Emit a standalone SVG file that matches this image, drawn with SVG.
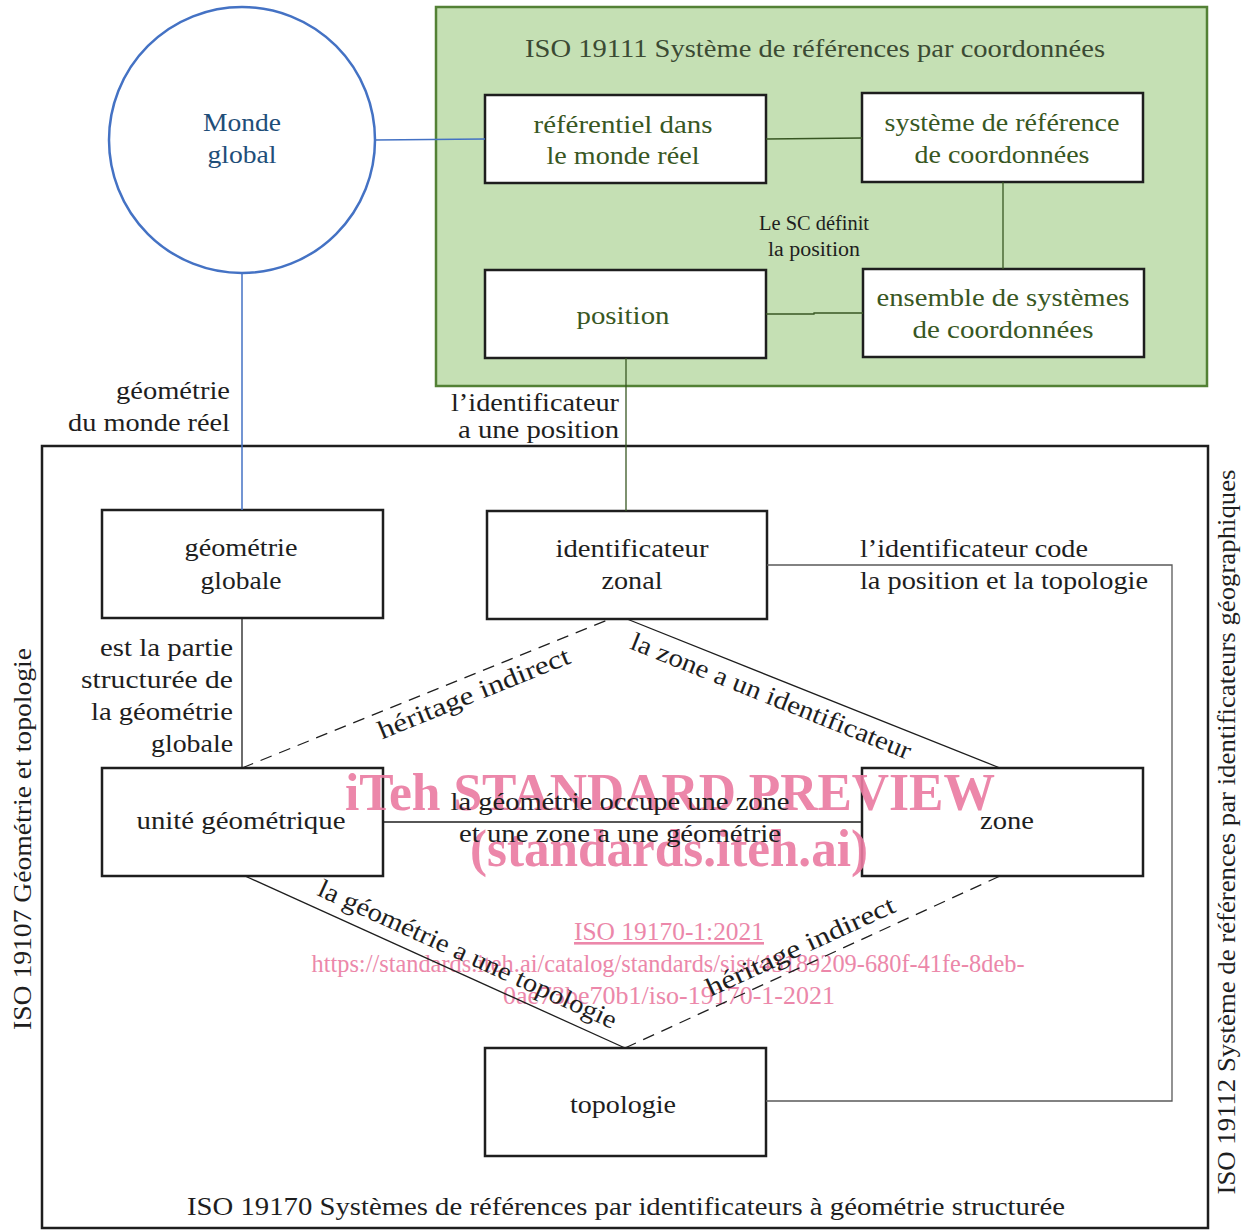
<svg xmlns="http://www.w3.org/2000/svg" width="1243" height="1230" viewBox="0 0 1243 1230">
<style>
  text { font-family: "Liberation Serif", "DejaVu Serif", serif; }
  .t { font-size: 26px; fill: #1e1e1e; }
  .g { font-size: 26px; fill: #385723; }
  .gt { font-size: 26px; fill: #3b4a33; }
  .s { font-size: 20px; fill: #1e1e1e; }
  .m { text-anchor: middle; }
  .e { text-anchor: end; }
  .box { fill: #ffffff; stroke: #1e1e1e; stroke-width: 2.5; }
  .ln { fill: none; stroke: #1e1e1e; stroke-width: 1.3; }
  .gl { fill: none; stroke: #385723; stroke-width: 1.3; }
  .bl { fill: none; stroke: #4472c4; stroke-width: 1.5; }
  .gr { fill: none; stroke: #595959; stroke-width: 1.3; }
  .dash { fill: none; stroke: #1e1e1e; stroke-width: 1.3; stroke-dasharray: 12 8; }
  .wm { fill: #ea7ba1; opacity: 0.9; }
</style>

<!-- containers -->
<g id="iso19111">
  <rect x="436" y="7" width="771" height="379" fill="#c5e0b4" stroke="#538135" stroke-width="2.5"/>
  <text class="gt m" x="815" y="57" textLength="580" lengthAdjust="spacingAndGlyphs">ISO 19111 Système de références par coordonnées</text>
</g>
<g id="iso19170">
  <rect x="42" y="446" width="1166" height="782" fill="none" stroke="#1e1e1e" stroke-width="2.5"/>
  <text class="t m" x="626" y="1215" textLength="878" lengthAdjust="spacingAndGlyphs">ISO 19170 Systèmes de références par identificateurs à géométrie structurée</text>
</g>
<g id="iso19107-label">
  <text class="t m" transform="translate(31,839) rotate(-90)" textLength="382" lengthAdjust="spacingAndGlyphs">ISO 19107 Géométrie et topologie</text>
</g>
<g id="iso19112-label">
  <text class="t m" transform="translate(1235,832) rotate(-90)" textLength="725" lengthAdjust="spacingAndGlyphs">ISO 19112 Système de références par identificateurs géographiques</text>
</g>

<!-- nodes -->
<g id="monde-global">
  <circle cx="242" cy="140" r="133" fill="#ffffff" stroke="#4472c4" stroke-width="2.5"/>
  <text class="t m" x="242" y="131" style="fill:#1f4e79" textLength="78" lengthAdjust="spacingAndGlyphs">Monde</text>
  <text class="t m" x="242" y="163" style="fill:#1f4e79" textLength="69" lengthAdjust="spacingAndGlyphs">global</text>
</g>
<g id="referentiel">
  <rect class="box" x="485" y="95" width="281" height="88"/>
  <text class="g m" x="623" y="133" textLength="179" lengthAdjust="spacingAndGlyphs">référentiel dans</text>
  <text class="g m" x="623" y="164" textLength="153" lengthAdjust="spacingAndGlyphs">le monde réel</text>
</g>
<g id="systeme-reference">
  <rect class="box" x="862" y="93" width="281" height="89"/>
  <text class="g m" x="1002" y="131" textLength="235" lengthAdjust="spacingAndGlyphs">système de référence</text>
  <text class="g m" x="1002" y="163" textLength="175" lengthAdjust="spacingAndGlyphs">de coordonnées</text>
</g>
<g id="position">
  <rect class="box" x="485" y="270" width="281" height="88"/>
  <text class="g m" x="623" y="324" textLength="93" lengthAdjust="spacingAndGlyphs">position</text>
</g>
<g id="ensemble-systemes">
  <rect class="box" x="863" y="269" width="281" height="88"/>
  <text class="g m" x="1003" y="306" textLength="253" lengthAdjust="spacingAndGlyphs">ensemble de systèmes</text>
  <text class="g m" x="1003" y="338" textLength="181" lengthAdjust="spacingAndGlyphs">de coordonnées</text>
</g>
<g id="geometrie-globale">
  <rect class="box" x="102" y="510" width="281" height="108"/>
  <text class="t m" x="241" y="556" textLength="113" lengthAdjust="spacingAndGlyphs">géométrie</text>
  <text class="t m" x="241" y="589" textLength="81" lengthAdjust="spacingAndGlyphs">globale</text>
</g>
<g id="identificateur-zonal">
  <rect class="box" x="487" y="511" width="280" height="108"/>
  <text class="t m" x="632" y="557" textLength="153" lengthAdjust="spacingAndGlyphs">identificateur</text>
  <text class="t m" x="632" y="589" textLength="61" lengthAdjust="spacingAndGlyphs">zonal</text>
</g>
<g id="unite-geometrique">
  <rect class="box" x="102" y="768" width="281" height="108"/>
  <text class="t m" x="241" y="829" textLength="209" lengthAdjust="spacingAndGlyphs">unité géométrique</text>
</g>
<g id="zone">
  <rect class="box" x="862" y="768" width="281" height="108"/>
  <text class="t m" x="1007" y="829" textLength="54" lengthAdjust="spacingAndGlyphs">zone</text>
</g>
<g id="topologie">
  <rect class="box" x="485" y="1048" width="281" height="108"/>
  <text class="t m" x="623" y="1113" textLength="106" lengthAdjust="spacingAndGlyphs">topologie</text>
</g>

<!-- watermark -->
<g id="watermark">
  <text class="wm m" x="670" y="810" font-size="52" font-weight="bold" textLength="650" lengthAdjust="spacingAndGlyphs">iTeh STANDARD PREVIEW</text>
  <text class="wm m" x="669" y="866" font-size="52" font-weight="bold" textLength="398" lengthAdjust="spacingAndGlyphs">(standards.iteh.ai)</text>
  <text class="wm m" x="669" y="940" font-size="26" text-decoration="underline" textLength="190" lengthAdjust="spacingAndGlyphs">ISO 19170-1:2021</text>
  <text class="wm m" x="668" y="972" font-size="26" textLength="713" lengthAdjust="spacingAndGlyphs">https://standards.iteh.ai/catalog/standards/sist/43189209-680f-41fe-8deb-</text>
  <text class="wm m" x="669" y="1004" font-size="26" textLength="332" lengthAdjust="spacingAndGlyphs">0ae73be70b1/iso-19170-1-2021</text>
</g>

<!-- connectors -->
<g id="connectors">
  <line class="bl" x1="375" y1="140" x2="485" y2="139"/>
  <line class="bl" x1="242" y1="273" x2="242" y2="510"/>
  <line class="gl" x1="766" y1="139" x2="862" y2="138"/>
  <line class="gl" x1="1003" y1="182" x2="1003" y2="269"/>
  <polyline class="gl" points="766,314 814,314 814,313 863,313"/>
  <line class="gl" x1="626" y1="358" x2="626" y2="511"/>
  <line class="ln" x1="242" y1="618" x2="242" y2="768"/>
  <line class="dash" x1="242" y1="768" x2="610" y2="619"/>
  <line class="ln" x1="627" y1="619" x2="1000" y2="768"/>
  <line class="ln" x1="383" y1="822" x2="862" y2="822"/>
  <line class="ln" x1="245" y1="876" x2="625" y2="1048"/>
  <line class="dash" x1="625" y1="1048" x2="1000" y2="876"/>
  <polyline class="gr" points="767,565 1172,565 1172,1101 766,1101"/>

  <text class="s m" x="814" y="230" textLength="110" lengthAdjust="spacingAndGlyphs">Le SC définit</text>
  <text class="s m" x="814" y="256" textLength="92" lengthAdjust="spacingAndGlyphs">la position</text>
  <text class="t e" x="230" y="399" textLength="114" lengthAdjust="spacingAndGlyphs">géométrie</text>
  <text class="t e" x="230" y="431" textLength="162" lengthAdjust="spacingAndGlyphs">du monde réel</text>
  <text class="t e" x="619" y="411" textLength="168" lengthAdjust="spacingAndGlyphs">l’identificateur</text>
  <text class="t e" x="619" y="438" textLength="161" lengthAdjust="spacingAndGlyphs">a une position</text>
  <text class="t" x="860" y="557" textLength="228" lengthAdjust="spacingAndGlyphs">l’identificateur code</text>
  <text class="t" x="860" y="589" textLength="288" lengthAdjust="spacingAndGlyphs">la position et la topologie</text>
  <text class="t e" x="233" y="656" textLength="133" lengthAdjust="spacingAndGlyphs">est la partie</text>
  <text class="t e" x="233" y="688" textLength="152" lengthAdjust="spacingAndGlyphs">structurée de</text>
  <text class="t e" x="233" y="720" textLength="142" lengthAdjust="spacingAndGlyphs">la géométrie</text>
  <text class="t e" x="233" y="752" textLength="82" lengthAdjust="spacingAndGlyphs">globale</text>
  <text class="t m" x="620" y="810" textLength="339" lengthAdjust="spacingAndGlyphs">la géométrie occupe une zone</text>
  <text class="t m" x="620" y="842" textLength="322" lengthAdjust="spacingAndGlyphs">et une zone a une géométrie</text>
  <text class="t m" transform="translate(477,701) rotate(-22)" textLength="205" lengthAdjust="spacingAndGlyphs">héritage indirect</text>
  <text class="t m" transform="translate(768,704) rotate(21.8)" textLength="300" lengthAdjust="spacingAndGlyphs">la zone a un identificateur</text>
  <text class="t m" transform="translate(464,962) rotate(24.4)" textLength="325" lengthAdjust="spacingAndGlyphs">la géométrie a une topologie</text>
  <text class="t m" transform="translate(804,954) rotate(-24.6)" textLength="205" lengthAdjust="spacingAndGlyphs">héritage indirect</text>
</g>
</svg>
